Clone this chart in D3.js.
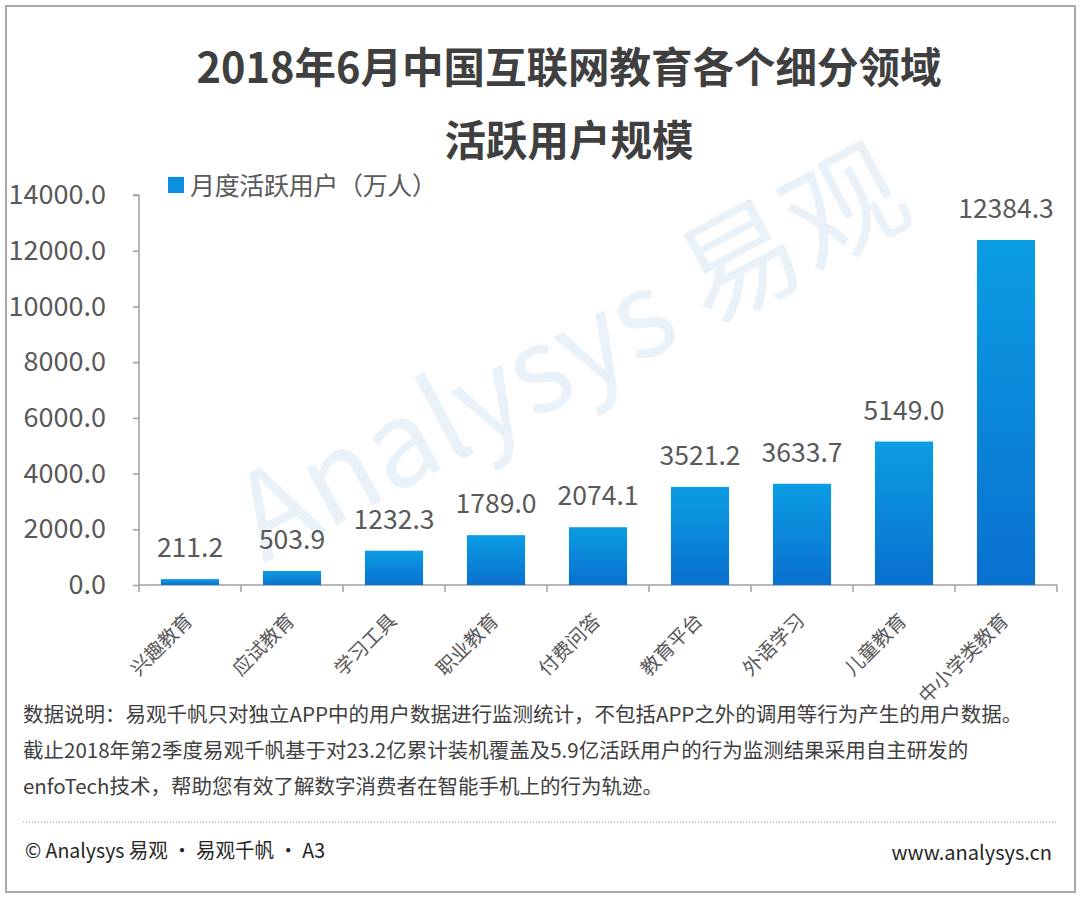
<!DOCTYPE html>
<html>
<head>
<meta charset="utf-8">
<script src="https://cdn.jsdelivr.net/npm/d3@7"></script>
<style>
  body { margin: 0; background: #fff; }
  svg text { font-family: "Noto Sans CJK SC", "Noto Sans", sans-serif; }
</style>
</head>
<body>
<div id="vis"></div>
<script>
// data
const categories = ["兴趣教育", "应试教育", "学习工具", "职业教育", "付费问答", "教育平台", "外语学习", "儿童教育", "中小学类教育"];
const users = [211.2, 503.9, 1232.3, 1789.0, 2074.1, 3521.2, 3633.7, 5149.0, 12384.3];
const yTicks = [0, 2000, 4000, 6000, 8000, 10000, 12000, 14000];
const titleLines = ["2018年6月中国互联网教育各个细分领域", "活跃用户规模"];
const legendLabel = "月度活跃用户（万人）";
const notes = [
  "数据说明：易观千帆只对独立APP中的用户数据进行监测统计，不包括APP之外的调用等行为产生的用户数据。",
  "截止2018年第2季度易观千帆基于对23.2亿累计装机覆盖及5.9亿活跃用户的行为监测结果采用自主研发的",
  "enfoTech技术，帮助您有效了解数字消费者在智能手机上的行为轨迹。"
];
const source = "© Analysys 易观 · 易观千帆 · A3";
const site = "www.analysys.cn";

const width = 1080, height = 900;
const textColor = "#595959";
const axisColor = "#a0a0a0";

const svg = d3.select("#vis").append("svg").attr("width", width).attr("height", height);

const defs = svg.append("defs");
const grad = defs.append("linearGradient").attr("id", "barFill")
  .attr("x1", 0).attr("y1", 0).attr("x2", 0).attr("y2", 1);
grad.append("stop").attr("offset", "0%").attr("stop-color", "#0b9de3");
grad.append("stop").attr("offset", "100%").attr("stop-color", "#0a70cf");

// frame
svg.append("rect").attr("x", 6).attr("y", 6).attr("width", 1069).attr("height", 886)
  .attr("fill", "#fff").attr("stroke", "#a9a9a9").attr("stroke-width", 2);

// watermark
svg.append("text")
  .attr("transform", "translate(590,390) rotate(-28)")
  .attr("text-anchor", "middle")
  .attr("font-size", 118)
  .attr("fill", "#e6f0f9")
  .attr("opacity", 0.85)
  .text("Analysys 易观");

// title
svg.selectAll("text.title").data(titleLines).enter()
  .append("text")
  .attr("class", "title")
  .attr("x", 569)
  .attr("y", (d, i) => 83 + i * 73)
  .attr("text-anchor", "middle")
  .attr("font-size", 41.5)
  .attr("font-weight", "bold")
  .attr("fill", "#3f3f3f")
  .text(d => d);

// scales
const x = d3.scaleBand().domain(categories).range([139, 1057]).paddingInner(0.43).paddingOuter(0.215);
const y = d3.scaleLinear().domain([0, 14000]).range([585, 195]);

// y axis
const yAxis = svg.append("g").attr("transform", "translate(139,0)")
  .call(d3.axisLeft(y).tickValues(yTicks).tickFormat(d3.format(".1f")).tickSize(6).tickPadding(27));
yAxis.select(".domain").attr("stroke", axisColor).attr("stroke-width", 1.5).attr("d", "M-6,195H0V585");
yAxis.selectAll(".tick line").attr("stroke", axisColor).attr("stroke-width", 1.5);
yAxis.selectAll(".tick text").attr("font-size", 27).attr("fill", textColor)
  .attr("font-family", "'Noto Sans CJK SC', sans-serif");

// x axis baseline and ticks between bands
const xBoundaries = categories.map(c => x(c) - x.step() * x.paddingInner() / 2);
xBoundaries.push(1057);
svg.append("line").attr("x1", 139).attr("x2", 1057).attr("y1", y(0)).attr("y2", y(0))
  .attr("stroke", axisColor).attr("stroke-width", 1.5);
svg.selectAll("line.xtick").data(xBoundaries).enter()
  .append("line").attr("class", "xtick")
  .attr("x1", d => d).attr("x2", d => d)
  .attr("y1", y(0)).attr("y2", y(0) + 7)
  .attr("stroke", axisColor).attr("stroke-width", 1.5);

// bars
svg.selectAll("rect.bar").data(users).enter()
  .append("rect").attr("class", "bar")
  .attr("x", (d, i) => x(categories[i]))
  .attr("y", d => y(d))
  .attr("width", x.bandwidth())
  .attr("height", d => y(0) - y(d))
  .attr("fill", "url(#barFill)");

// value labels
svg.selectAll("text.value").data(users).enter()
  .append("text").attr("class", "value")
  .attr("x", (d, i) => x(categories[i]) + x.bandwidth() / 2)
  .attr("y", d => y(d) - 22)
  .attr("text-anchor", "middle")
  .attr("font-size", 26.5)
  .attr("fill", textColor)
  .text(d => d3.format(".1f")(d));

// category labels
svg.selectAll("text.cat").data(categories).enter()
  .append("text").attr("class", "cat")
  .attr("transform", d => `translate(${x(d) + x.bandwidth() / 2 - 1},617) rotate(-45)`)
  .attr("text-anchor", "end")
  .attr("dy", "0.35em")
  .attr("font-size", 19.5)
  .attr("fill", textColor)
  .text(d => d);

// legend
svg.append("rect").attr("x", 168).attr("y", 177).attr("width", 16).attr("height", 16).attr("fill", "#0b8fdf");
svg.append("text").attr("x", 190).attr("y", 195).attr("font-size", 25).attr("fill", textColor)
  .attr("textLength", 247).attr("lengthAdjust", "spacing").text(legendLabel);

// notes
svg.selectAll("text.note").data(notes).enter()
  .append("text").attr("class", "note")
  .attr("x", 23)
  .attr("y", (d, i) => 722 + i * 36)
  .attr("font-size", 20.5)
  .attr("fill", "#404040")
  .text(d => d);

svg.append("line").attr("x1", 23).attr("x2", 1058).attr("y1", 822).attr("y2", 822)
  .attr("stroke", "#9a9a9a").attr("stroke-width", 1).attr("stroke-dasharray", "1,2");

svg.append("text").attr("x", 25).attr("y", 858).attr("font-size", 20).attr("fill", "#262626")
  .attr("textLength", 300).attr("lengthAdjust", "spacingAndGlyphs").text(source);
svg.append("text").attr("x", 1052).attr("y", 860).attr("text-anchor", "end").attr("font-size", 20).attr("fill", "#262626").text(site);
</script>
</body>
</html>
